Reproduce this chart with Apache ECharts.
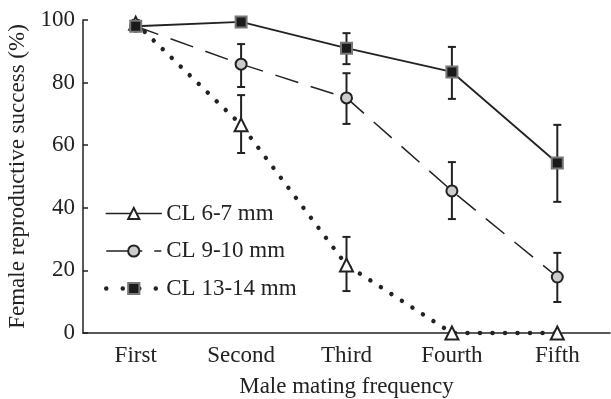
<!DOCTYPE html>
<html>
<head>
<meta charset="utf-8">
<script src="https://cdn.jsdelivr.net/npm/echarts@6/dist/echarts.min.js"></script>
<style>
  html, body { margin: 0; padding: 0; background: #fff; }
  #chart { width: 611px; height: 399px; }
</style>
</head>
<body>
<div id="chart"></div>
<script>
// 横轴类别
const categories = ["First", "Second", "Third", "Fourth", "Fifth"];
const seriesNames = ["CL 6-7 mm", "CL 9-10 mm", "CL 13-14 mm"];

// 均值
const small = [99, 66.5, 21.7, 0, 0];
const medium = [98, 85.9, 75.1, 45.4, 17.9];
const large = [98, 99.4, 91, 83.4, 54.3];

// 误差线 上/下
const smallHigh = [100, 76, 30.7, null, null];
const smallLow = [97, 57.5, 13.4, null, null];
const mediumHigh = [99.5, 92.3, 83, 54.6, 25.6];
const mediumLow = [96.5, 78.6, 66.8, 36.4, 9.9];
const largeHigh = [99.5, null, 95.8, 91.4, 66.5];
const largeLow = [96.5, null, 85.9, 74.8, 41.9];

const yTicks = [0, 20, 40, 60, 80, 100];

const font = "Liberation Serif";
const fontSize = 23;
const ink = "#222";

const errData = (hi, lo) =>
  categories
    .map((c, i) => [i, lo[i], hi[i]])
    .filter((d) => d[1] != null && d[2] != null);

const errorSeries = (hi, lo) => ({
  type: "custom",
  data: errData(hi, lo),
  z: 1,
  silent: true,
  renderItem: (params, api) => {
    const top = api.coord([api.value(0), api.value(2)]);
    const bot = api.coord([api.value(0), api.value(1)]);
    const w = 4;
    const st = { stroke: ink, lineWidth: 2 };
    return {
      type: "group",
      children: [
        { type: "line", shape: { x1: top[0], y1: top[1], x2: bot[0], y2: bot[1] }, style: st },
        { type: "line", shape: { x1: top[0] - w, y1: top[1], x2: top[0] + w, y2: top[1] }, style: st },
        { type: "line", shape: { x1: bot[0] - w, y1: bot[1], x2: bot[0] + w, y2: bot[1] }, style: st },
      ],
    };
  },
});

const option = {
  animation: false,
  backgroundColor: "#fff",
  textStyle: { fontFamily: font },
  grid: { left: 83, right: 1, top: 20, bottom: 66, outerBoundsMode: "none" },
  legend: {
    orient: "vertical",
    left: 104,
    top: 202,
    padding: 0,
    itemWidth: 55,
    itemHeight: 14,
    itemGap: 14.5,
    textStyle: { fontFamily: font, fontSize: fontSize, color: ink },
    data: [
      { name: seriesNames[0], lineStyle: { type: "solid", width: 1.5 } },
      { name: seriesNames[1], lineStyle: { type: [36, 12], width: 1.5 } },
      { name: seriesNames[2], lineStyle: { type: [0.01, 16.5], width: 4.5, cap: "round" } },
    ],
  },
  xAxis: {
    type: "category",
    data: categories,
    boundaryGap: true,
    name: "Male mating frequency",
    nameLocation: "middle",
    nameGap: 42,
    nameTextStyle: { fontFamily: font, fontSize: fontSize, color: ink },
    axisLine: { lineStyle: { color: ink, width: 1.5 } },
    axisTick: { inside: true, length: 5, lineStyle: { color: ink, width: 1.5 } },
    axisLabel: { fontFamily: font, fontSize: fontSize, color: ink, margin: 11 },
    splitLine: { show: false },
  },
  yAxis: {
    type: "value",
    min: yTicks[0],
    max: yTicks[yTicks.length - 1],
    interval: 20,
    name: "Female reproductive success (%)",
    nameLocation: "middle",
    nameGap: 50,
    nameTextStyle: { fontFamily: font, fontSize: fontSize, color: ink },
    axisLine: { show: true, lineStyle: { color: ink, width: 1.5 } },
    axisTick: { show: true, inside: true, length: 5, lineStyle: { color: ink, width: 1.5 } },
    axisLabel: { fontFamily: font, fontSize: fontSize, color: ink, margin: 8 },
    splitLine: { show: false },
  },
  series: [
    errorSeries(smallHigh, smallLow),
    errorSeries(mediumHigh, mediumLow),
    errorSeries(largeHigh, largeLow),
    {
      name: seriesNames[0],
      type: "line",
      data: small,
      z: 2,
      clip: false,
      symbol: "triangle",
      symbolSize: 13,
      itemStyle: { color: "#fff", borderColor: ink, borderWidth: 2 },
      lineStyle: { color: ink, width: 4.5, type: [0.01, 12.5], cap: "round" },
    },
    {
      name: seriesNames[1],
      type: "line",
      data: medium,
      z: 3,
      symbol: "circle",
      symbolSize: 11,
      itemStyle: { color: "#ccc", borderColor: ink, borderWidth: 2 },
      lineStyle: { color: ink, width: 1.5, type: [24, 13] },
    },
    {
      name: seriesNames[2],
      type: "line",
      data: large,
      z: 4,
      symbol: "rect",
      symbolSize: 11,
      itemStyle: { color: "#1a1a1a", borderColor: "#777", borderWidth: 2 },
      lineStyle: { color: ink, width: 1.8, type: "solid" },
    },
  ],
};

const myChart = echarts.init(document.getElementById("chart"));
myChart.setOption(option);
</script>
</body>
</html>
